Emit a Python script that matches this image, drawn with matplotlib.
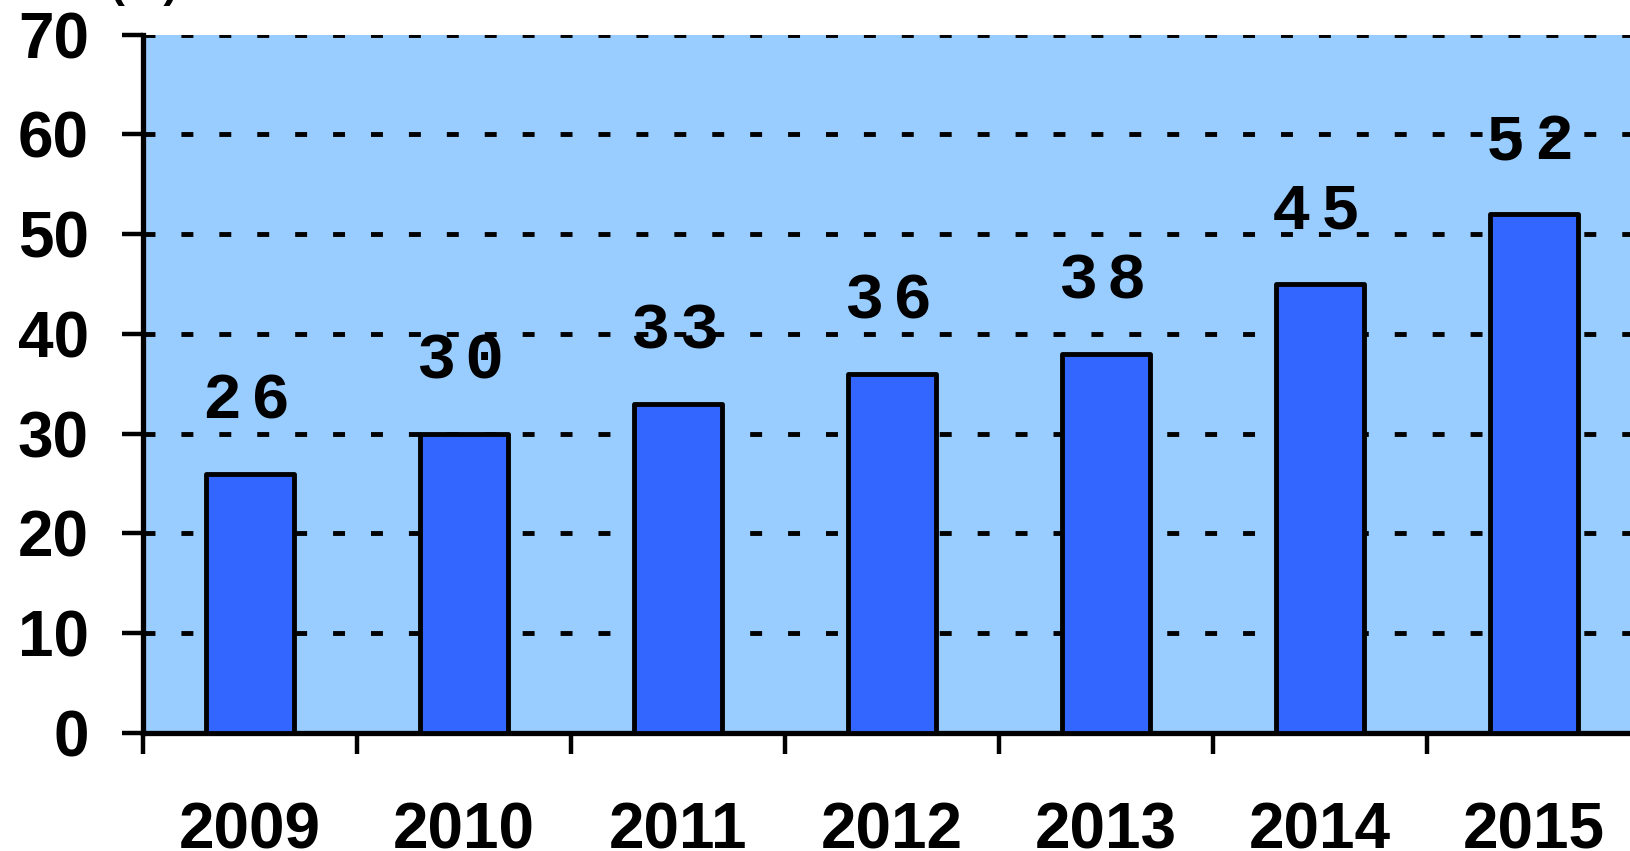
import matplotlib
matplotlib.use("Agg")
import matplotlib.pyplot as plt

years = ["2009", "2010", "2011", "2012", "2013", "2014", "2015"]
values = [26, 30, 33, 36, 38, 45, 52]
value_labels = ["26", "30", "33", "36", "38", "45", "52"]
yticks = [0, 10, 20, 30, 40, 50, 60, 70]

plt.rcParams['lines.scale_dashes'] = False

fig = plt.figure(figsize=(16.30, 8.51), dpi=100)
ax = fig.add_axes([143/1630, 1-733/851, 1498/1630, (733-34.7)/851])
ax.set_facecolor('#99CCFF')

x = list(range(len(years)))
ax.bar(x, values, width=0.41, color='#3366FF', edgecolor='black', linewidth=3.5,
       zorder=3, joinstyle='round')

# value labels, drawn digit by digit to mimic the wide letter spacing
char_step = 17.5  # points between character centres
for xi, v, lab in zip(x, values, value_labels):
    n = len(lab)
    for k, ch in enumerate(lab):
        dx = -3 + (k - (n - 1) / 2) * char_step * 2
        ax.annotate(ch, (xi, v), xytext=(dx, 52), textcoords='offset points',
                    ha='center', va='center', fontsize=47, family='Liberation Mono',
                    fontweight='bold', color='black', zorder=5)

ax.set_xlim(-0.5, len(years) - 0.5)
ax.set_ylim(0, 70)
ax.set_yticks(yticks)
ax.set_yticklabels([str(t) for t in yticks], fontsize=46, fontweight='bold',
                   family='Liberation Sans')
ax.tick_params(axis='y', direction='out', length=15, width=3.2, pad=24)

ax.set_xticks([i - 0.5 for i in x] + [len(years) - 0.5])
ax.set_xticklabels([])
ax.set_xticks(x, minor=True)
ax.set_xticklabels(years, minor=True, fontsize=46, fontweight='bold',
                   family='Liberation Sans')
ax.tick_params(axis='x', which='major', direction='out', length=15, width=3.2)
ax.tick_params(axis='x', which='minor', length=0, pad=49)

for t in yticks[1:]:
    ax.axhline(t, color='black', linewidth=3.5, dashes=(8.6, 18.7), zorder=2)

for side in ['top', 'right']:
    ax.spines[side].set_visible(False)
ax.spines['left'].set_linewidth(3.8)
ax.spines['bottom'].set_linewidth(3.8)

fig.text(110/1630, 1.004, "(%)", fontsize=32, fontweight='bold',
         family='Liberation Sans', ha='left', va='baseline')

fig.savefig('out.png', dpi=100)
